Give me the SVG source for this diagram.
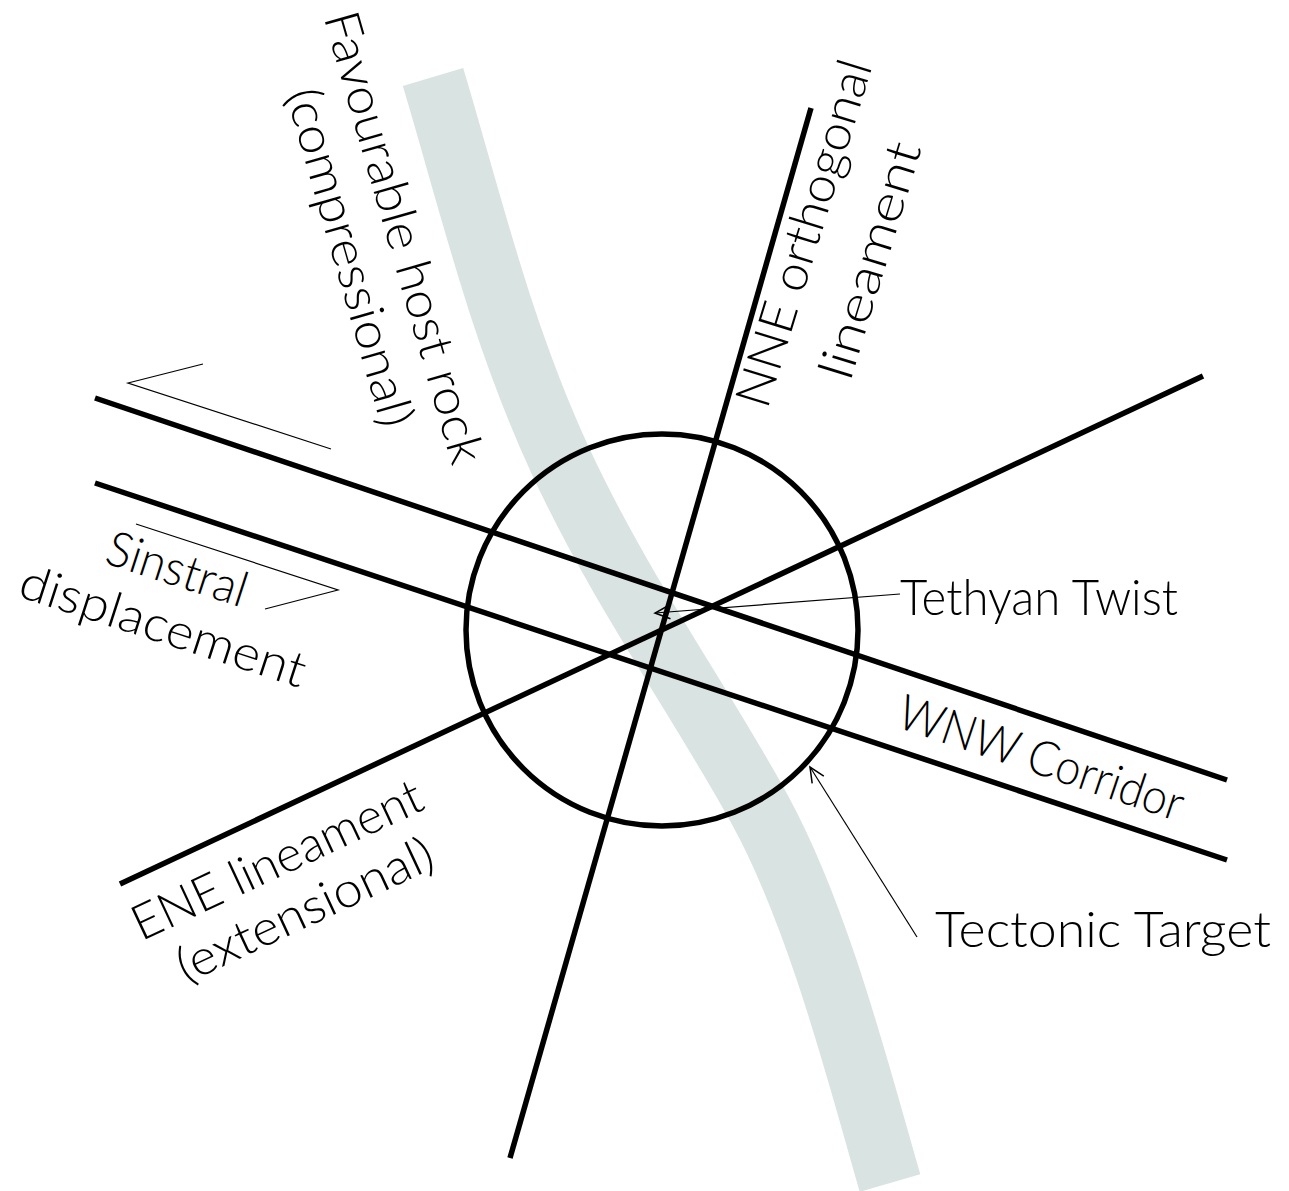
<svg xmlns="http://www.w3.org/2000/svg" width="1289" height="1191" viewBox="0 0 1289 1191">
<defs>
<style>
.band{fill:none;stroke:#d9e3e1;stroke-width:63;stroke-linecap:butt}
.thick{fill:none;stroke:#000;stroke-width:5.5;stroke-linecap:butt}
.thin{fill:none;stroke:#000;stroke-width:1.2}
.lbl{font-family:"Lato","DejaVu Sans","Liberation Sans",sans-serif;font-weight:300;font-size:49px;fill:#000}
</style>
<marker id="openArrow" markerUnits="userSpaceOnUse" markerWidth="20" markerHeight="20" viewBox="-14 -8 16 16" refX="0" refY="0" orient="auto">
<path d="M-12,-5.5 L0,0 L-12,5.5" fill="none" stroke="#000" stroke-width="1.2"/>
</marker>
</defs>
<rect width="1289" height="1191" fill="#fff"/>
<g id="host-rock-band">
<path class="band" d="M433,77 C470,200 500,330 560,460 S700,700 760,810 S860,1080 890,1183"/>
</g>
<g id="tectonic-target">
<circle class="thick" cx="662" cy="630" r="196"/>
</g>
<g id="wnw-corridor">
<line class="thick" x1="95" y1="398" x2="1227" y2="780"/>
<line class="thick" x1="95" y1="483" x2="1227" y2="860"/>
</g>
<g id="ene-lineament">
<line class="thick" x1="120" y1="884" x2="1203" y2="376"/>
</g>
<g id="nne-lineament">
<line class="thick" x1="510" y1="1158" x2="811" y2="108"/>
</g>
<g id="connectors">
<polyline class="thin" points="203,364 128,383 331,449"/>
<polyline class="thin" points="136,524 338,590 265,609"/>
<line class="thin" x1="900" y1="594" x2="655" y2="613" marker-end="url(#openArrow)"/>
<line class="thin" x1="917" y1="937" x2="810" y2="767" marker-end="url(#openArrow)"/>
</g>
<g id="label-host-rock">
<text class="lbl" text-anchor="middle" transform="translate(388,242) rotate(74)" textLength="468" lengthAdjust="spacingAndGlyphs">Favourable host rock</text>
<text class="lbl" text-anchor="middle" transform="translate(334,262) rotate(74)" textLength="350" lengthAdjust="spacingAndGlyphs">(compressional)</text>
</g>
<g id="label-nne">
<text class="lbl" text-anchor="middle" transform="translate(820,238) rotate(-73)" textLength="360" lengthAdjust="spacingAndGlyphs">NNE orthogonal</text>
<text class="lbl" text-anchor="middle" transform="translate(886,265) rotate(-73)" textLength="245" lengthAdjust="spacingAndGlyphs">lineament</text>
</g>
<g id="label-sinistral">
<text class="lbl" text-anchor="middle" transform="translate(172,585) rotate(18)" textLength="145" lengthAdjust="spacingAndGlyphs">Sinstral</text>
<text class="lbl" text-anchor="middle" transform="translate(158,642) rotate(18)" textLength="298" lengthAdjust="spacingAndGlyphs">displacement</text>
</g>
<g id="label-ene">
<text class="lbl" text-anchor="middle" transform="translate(284,875) rotate(-25)" textLength="315" lengthAdjust="spacingAndGlyphs">ENE lineament</text>
<text class="lbl" text-anchor="middle" transform="translate(312,925) rotate(-25)" textLength="278" lengthAdjust="spacingAndGlyphs">(extensional)</text>
</g>
<g id="label-wnw">
<text class="lbl" text-anchor="middle" transform="translate(1036,774) rotate(18.6)" textLength="298" lengthAdjust="spacingAndGlyphs">WNW Corridor</text>
</g>
<g id="label-tethyan">
<text class="lbl" x="900" y="615" textLength="278" lengthAdjust="spacingAndGlyphs">Tethyan Twist</text>
</g>
<g id="label-tectonic">
<text class="lbl" x="935" y="947" textLength="336" lengthAdjust="spacingAndGlyphs">Tectonic Target</text>
</g>
</svg>
